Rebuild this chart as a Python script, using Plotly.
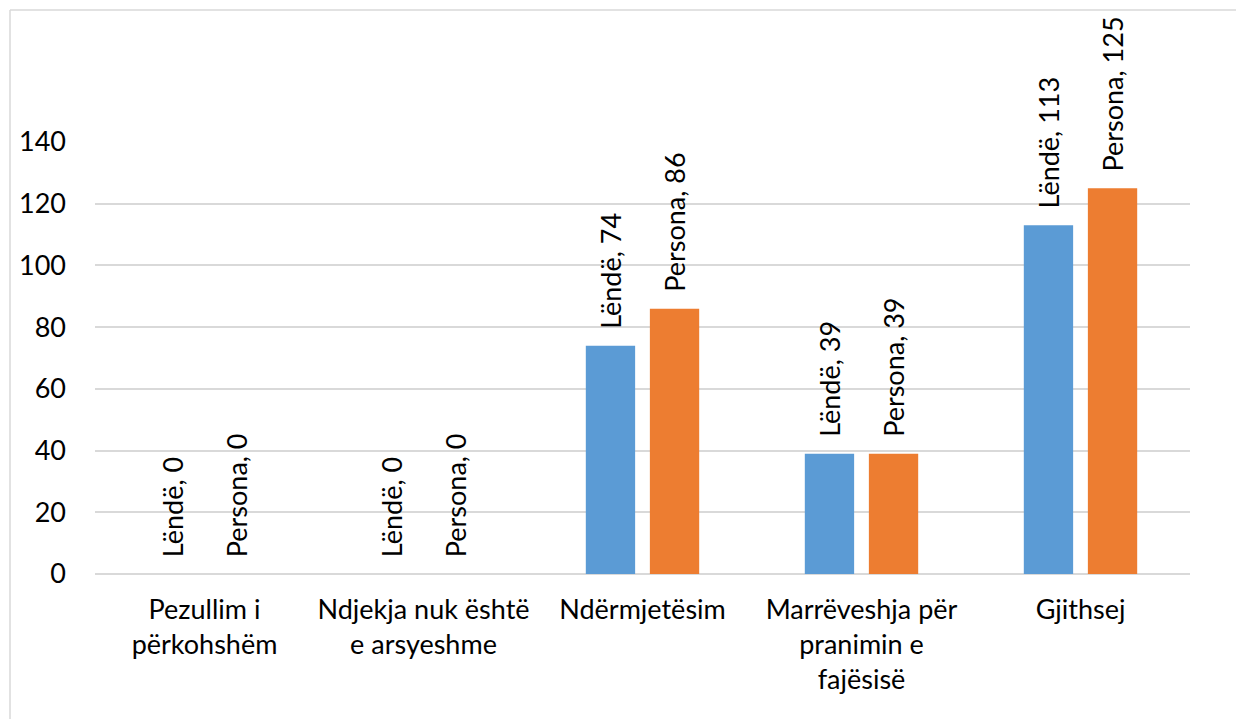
import plotly.graph_objects as go

categories = ["Pezullim i<br>përkohshëm", "Ndjekja nuk është<br>e arsyeshme", "Ndërmjetësim",
              "Marrëveshja për<br>pranimin e<br>fajësisë", "Gjithsej"]
series_names = ["Lëndë", "Persona"]
lende = [0, 0, 74, 39, 113]
persona = [0, 0, 86, 39, 125]
colors = ["#5B9BD5", "#ED7D31"]
y_ticks = [0, 20, 40, 60, 80, 100, 120, 140]

FONT = "Lato, Open Sans, sans-serif"
FS = 27
PAD = "\u00a0\u00a0"

fig = go.Figure()
for name, vals, col in zip(series_names, [lende, persona], colors):
    fig.add_trace(go.Bar(
        x=categories, y=vals, name=name, marker_color=col,
        marker_line_width=0,
        text=[f"{PAD}{name}, {v}" for v in vals],
        textposition="outside", textangle=-90,
        textfont=dict(family=FONT, size=FS, color="black"),
        cliponaxis=False, constraintext="none",
    ))

OFF = 8  # page body margin
W, H = 1244 - OFF, 719 - OFF
ml, mr, mt, mb = 95 - OFF, 54, 142 - OFF, 145
pw, ph = W - ml - mr, H - mt - mb

def px_x(p):
    return (p - OFF - ml) / pw

def px_y(p):
    return (719 - mb - p) / ph

fig.update_layout(
    width=W, height=H,
    margin=dict(l=ml, r=mr, t=mt, b=mb),
    paper_bgcolor="white", plot_bgcolor="white",
    barmode="group", bargap=0.415, bargroupgap=0.23,
    showlegend=False,
    font=dict(family=FONT, size=FS, color="black"),
    xaxis=dict(showgrid=False, showline=False, ticks="", tickfont=dict(size=FS),
               ticklabelstandoff=17),
    yaxis=dict(range=[0, 140], tickvals=y_ticks, showgrid=True, gridcolor="#d9d9d9",
               gridwidth=1.5, zeroline=True, zerolinecolor="#d9d9d9", zerolinewidth=1.5,
               showline=False, ticks="", ticklen=0, tickfont=dict(size=FS), ticklabelstandoff=28),
    shapes=[
        dict(type="line", xref="paper", yref="paper", x0=px_x(10), x1=px_x(1260),
             y0=px_y(10), y1=px_y(10), line=dict(color="#d9d9d9", width=1.5)),
        dict(type="line", xref="paper", yref="paper", x0=px_x(10), x1=px_x(10),
             y0=px_y(10), y1=px_y(740), line=dict(color="#d9d9d9", width=1.5)),
    ],
)

fig.write_html("out.html")
